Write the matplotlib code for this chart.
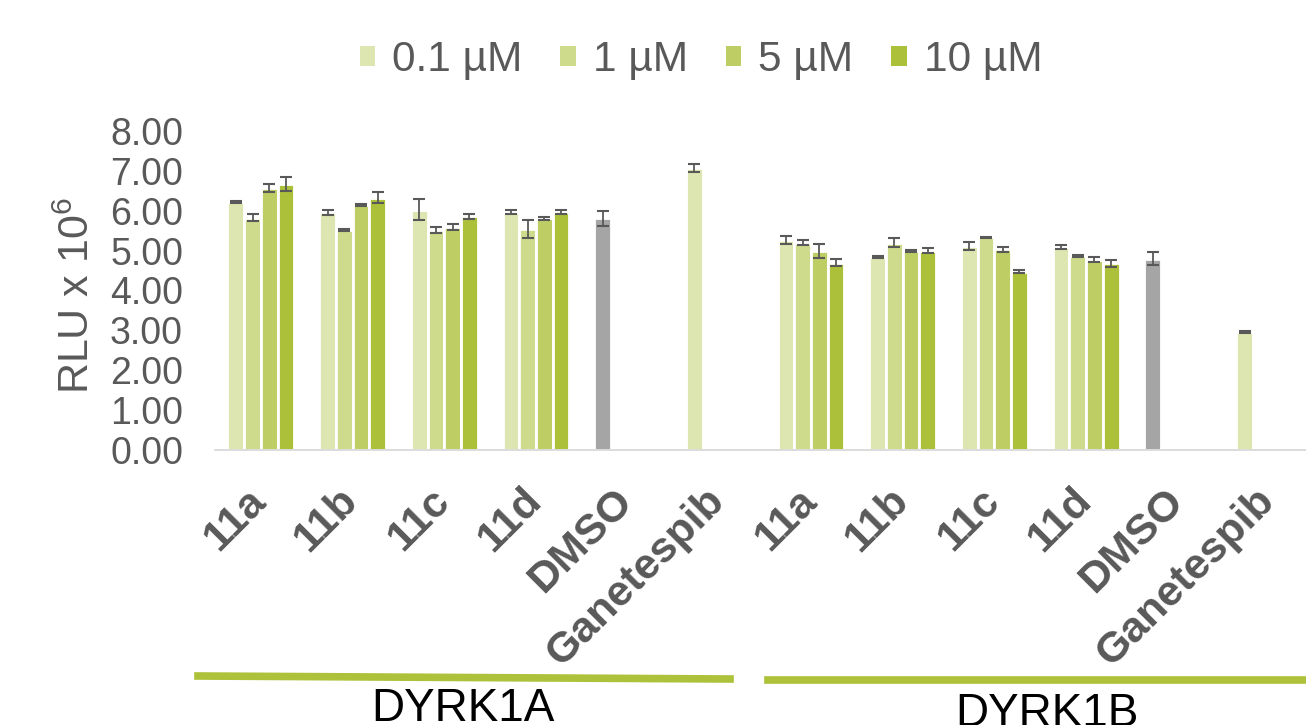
import numpy as np
import matplotlib

matplotlib.use("Agg")
import matplotlib.pyplot as plt
from matplotlib.patches import Patch
from matplotlib.lines import Line2D
from matplotlib.transforms import ScaledTranslation

plt.rcParams["font.family"] = ["Liberation Sans", "DejaVu Sans"]
plt.rcParams["mathtext.fontset"] = "custom"
plt.rcParams["mathtext.rm"] = "Liberation Sans"
plt.rcParams["mathtext.it"] = "Liberation Sans"

nan = np.nan

# ---- data (RLU x 10^6) ----
categories = ["11a", "11b", "11c", "11d", "DMSO", "Ganetespib"] * 2
kinases = ["DYRK1A", "DYRK1B"]
conc_labels = ["0.1 µM", "1 µM", "5 µM", "10 µM"]

# DMSO / Ganetespib sit in the first (0.1 µM) series
vals_01 = [6.22, 5.96, 6.03, 5.96, 5.81, 7.06, 5.26, 4.84, 5.11, 5.10, 4.80, 2.96]
vals_1 = [5.83, 5.51, 5.51, 5.54, nan, nan, 5.20, 5.20, 5.33, 4.87, nan, nan]
vals_5 = [6.56, 6.14, 5.60, 5.81, nan, nan, 4.99, 4.99, 5.03, 4.77, nan, nan]
vals_10 = [6.67, 6.33, 5.86, 5.96, nan, nan, 4.70, 5.00, 4.47, 4.68, nan, nan]

err_01 = [0.02, 0.06, 0.27, 0.05, 0.19, 0.10, 0.10, 0.02, 0.10, 0.05, 0.17, 0.02]
err_1 = [0.08, 0.02, 0.075, 0.22, nan, nan, 0.06, 0.11, 0.02, 0.03, nan, nan]
err_5 = [0.10, 0.03, 0.08, 0.04, nan, nan, 0.18, 0.03, 0.06, 0.06, nan, nan]
err_10 = [0.17, 0.14, 0.06, 0.05, nan, nan, 0.08, 0.06, 0.04, 0.08, nan, nan]

series = [vals_01, vals_1, vals_5, vals_10]
errors = [err_01, err_1, err_5, err_10]
colors = ["#DDE6B0", "#CEDB8C", "#BFCE64", "#ADC03A"]
DMSO_COLOR = "#A5A5A5"
TEXT = "#595959"

W, H = 1306, 725
fig = plt.figure(figsize=(W / 100, H / 100), dpi=100)

# axes in pixel terms: left 215, baseline 450, top (8.00) 131, 12 slots of ~91.7 px
ax_left, ax_bottom, ax_top, slot = 215, 450, 131, 91.7
ax = fig.add_axes([ax_left / W, (H - ax_bottom) / H, 12 * slot / W, (ax_bottom - ax_top) / H])

x = np.arange(len(categories))
bw = 0.182
for i, (vals, errs) in enumerate(zip(series, errors)):
    xs = x + (i - 1.5) * bw
    v = np.array(vals, dtype=float)
    e = np.array(errs, dtype=float)
    cols = [DMSO_COLOR if c == "DMSO" else colors[i] for c in categories]
    ax.bar(xs, v, width=bw, color=cols, edgecolor="white", linewidth=2.0, zorder=2)
    ax.errorbar(xs, v, yerr=e, fmt="none", ecolor=TEXT, elinewidth=1.3,
                capsize=4.6, capthick=1.5, zorder=3)

ax.set_xlim(-0.5, 11.5)
ax.set_ylim(0, 8)
ax.set_yticks(np.arange(0, 9, 1))
ax.set_yticklabels([f"{t:.2f}" for t in range(9)])
ax.tick_params(axis="y", length=0, pad=23, labelsize=27, labelcolor=TEXT)
ax.set_xticks(x)
ax.set_xticklabels(categories, rotation=45, ha="right", rotation_mode="anchor",
                   fontweight="bold", fontsize=31, color=TEXT)
ax.tick_params(axis="x", length=0, pad=22)
shift = ScaledTranslation(-15 / 100, 0, fig.dpi_scale_trans)
for lab in ax.get_xticklabels():
    lab.set_transform(lab.get_transform() + shift)
for s in ["top", "right", "left"]:
    ax.spines[s].set_visible(False)
ax.spines["bottom"].set_color("#D9D9D9")
ax.spines["bottom"].set_linewidth(1.3)

fig.text(78 / W, 1 - 295 / H, "RLU x 10$^6$", rotation=90, ha="center", va="center",
         fontsize=31, color=TEXT)

handles = [Patch(facecolor=c, edgecolor="none") for c in colors]
fig.legend(handles, conc_labels, loc="center", bbox_to_anchor=(701 / W, 1 - 60 / H),
           ncol=4, frameon=False, fontsize=30.5, labelcolor=TEXT,
           handlelength=0.36, handleheight=0.36, handletextpad=0.4, columnspacing=0.9)

# kinase group underlines and names
green = "#ADC23A"
fig.add_artist(Line2D([198 / W, 730 / W], [1 - 676 / H, 1 - 679 / H], color=green, lw=5.5))
fig.add_artist(Line2D([768 / W, 1.0], [1 - 680 / H, 1 - 680 / H], color=green, lw=5.5))
fig.text(463 / W, 1 - 721 / H, kinases[0], ha="center", va="baseline", fontsize=33, color="black")
fig.text(1047 / W, 1 - 726 / H, kinases[1], ha="center", va="baseline", fontsize=33, color="black")

fig.savefig("out.png", dpi=100)
